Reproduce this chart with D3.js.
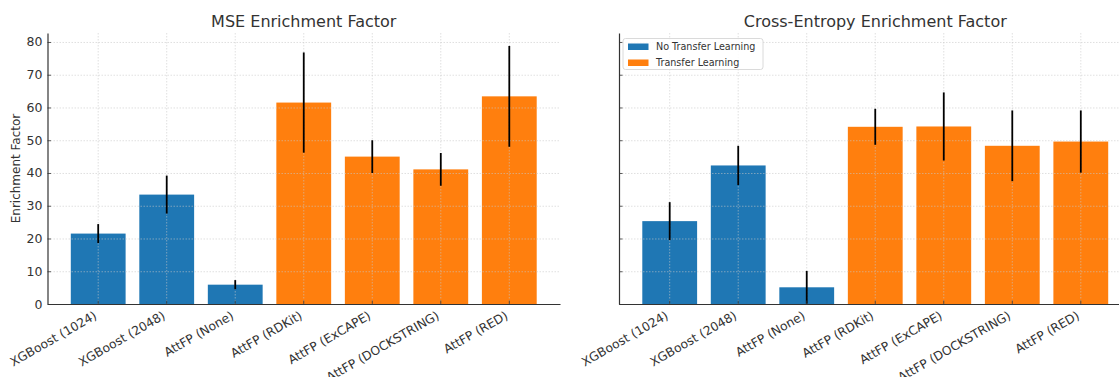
<!DOCTYPE html>
<html>
<head>
<meta charset="utf-8">
<script src="https://cdn.jsdelivr.net/npm/d3@7"></script>
<style>
  html, body { margin: 0; padding: 0; background: #ffffff; }
  svg { display: block; font-family: "DejaVu Sans", sans-serif; }
</style>
</head>
<body>
<svg id="chart" width="1119" height="377"></svg>
<script>
// Models compared in both panels
const categories = ["XGBoost (1024)", "XGBoost (2048)", "AttFP (None)", "AttFP (RDKit)",
                    "AttFP (ExCAPE)", "AttFP (DOCKSTRING)", "AttFP (RED)"];
// Whether the model used transfer learning (colour group)
const usesTransfer = [false, false, false, true, true, true, true];

// Enrichment factor, model trained with MSE loss: mean and standard deviation
const mseMean = [21.5, 33.4, 5.9, 61.5, 45.0, 41.1, 63.4];
const mseErr  = [2.9, 5.8, 1.4, 15.3, 5.0, 5.0, 15.4];

// Enrichment factor, model trained with cross-entropy loss: mean and standard deviation
const ceMean = [25.3, 42.3, 5.1, 54.1, 54.2, 48.3, 49.6];
const ceErr  = [5.8, 6.0, 5.0, 5.5, 10.4, 10.8, 9.5];

const yTicks = [0, 10, 20, 30, 40, 50, 60, 70, 80];
const legendLabels = ["No Transfer Learning", "Transfer Learning"];
const panelTitles = ["MSE Enrichment Factor", "Cross-Entropy Enrichment Factor"];

const colors = { base: "#1f77b4", transfer: "#ff7f0e" };
const textColor = "#333333";
const spineColor = "#333333";

const svg = d3.select("#chart");

const plotTop = 33, plotBottom = 304;
const panels = [
  { x0: 47.5, x1: 560, mean: mseMean, err: mseErr, title: panelTitles[0], yLabels: true, legend: false },
  { x0: 619, x1: 1131.5, mean: ceMean, err: ceErr, title: panelTitles[1], yLabels: false, legend: true }
];

// Shared y range: headroom of 5% above the tallest error bar
const yMax = d3.max([...mseMean.map((m, i) => m + mseErr[i]), ...ceMean.map((m, i) => m + ceErr[i])]) * 1.05;
const y = d3.scaleLinear().domain([0, yMax]).range([plotBottom, plotTop]);

panels.forEach(p => {
  const x = d3.scaleBand().domain(categories).range([p.x0, p.x1])
    .paddingInner(0.2).paddingOuter(0.34);
  const g = svg.append("g");

  // Bars
  g.selectAll("rect.bar").data(categories).join("rect")
    .attr("class", "bar")
    .attr("x", d => x(d))
    .attr("width", x.bandwidth())
    .attr("y", (d, i) => y(p.mean[i]))
    .attr("height", (d, i) => y(0) - y(p.mean[i]))
    .attr("fill", (d, i) => usesTransfer[i] ? colors.transfer : colors.base);

  // Grid drawn over the bars, faint dotted
  const grid = g.append("g").attr("stroke", "#c8c8c8").attr("stroke-opacity", 0.7)
    .attr("stroke-width", 0.8).attr("stroke-dasharray", "1.5,1.5");
  grid.selectAll("line.h").data(yTicks).join("line")
    .attr("x1", p.x0).attr("x2", p.x1)
    .attr("y1", d => y(d) + 0.5).attr("y2", d => y(d) + 0.5);
  grid.selectAll("line.v").data(categories).join("line")
    .attr("x1", d => x(d) + x.bandwidth() / 2).attr("x2", d => x(d) + x.bandwidth() / 2)
    .attr("y1", plotTop).attr("y2", plotBottom);

  // Error bars (no caps)
  g.selectAll("line.err").data(categories).join("line")
    .attr("class", "err")
    .attr("x1", d => x(d) + x.bandwidth() / 2)
    .attr("x2", d => x(d) + x.bandwidth() / 2)
    .attr("y1", (d, i) => y(Math.max(0, p.mean[i] - p.err[i])))
    .attr("y2", (d, i) => y(p.mean[i] + p.err[i]))
    .attr("stroke", "#000")
    .attr("stroke-width", 1.8);

  // Left axis (ticks pointing inward)
  const yAxis = d3.axisLeft(y).tickValues(yTicks).tickSizeInner(-3.5).tickSizeOuter(0)
    .tickPadding(5).tickFormat(p.yLabels ? d3.format("d") : () => "");
  const ya = g.append("g").attr("transform", `translate(${p.x0},0)`).call(yAxis);
  ya.select(".domain").attr("stroke", spineColor).attr("stroke-width", 1.2);
  ya.selectAll(".tick line").attr("stroke", spineColor).attr("stroke-width", 0.8);
  ya.selectAll(".tick text").attr("fill", textColor).attr("font-size", 12.5)
    .attr("font-family", "DejaVu Sans");

  // Bottom axis (ticks pointing inward, labels rotated)
  const xAxis = d3.axisBottom(x).tickSizeInner(-3.5).tickSizeOuter(0).tickPadding(0);
  const xa = g.append("g").attr("transform", `translate(0,${plotBottom})`).call(xAxis);
  xa.select(".domain").attr("stroke", spineColor).attr("stroke-width", 1.2);
  xa.selectAll(".tick line").attr("stroke", spineColor).attr("stroke-width", 0.8);
  xa.selectAll(".tick text")
    .attr("fill", textColor).attr("font-size", 12.3).attr("font-family", "DejaVu Sans")
    .attr("text-anchor", "end").attr("dy", null).attr("y", null)
    .attr("transform", "translate(-0.5,14) rotate(-30)");

  // Title
  svg.append("text")
    .attr("x", (p.x0 + p.x1) / 2).attr("y", 27)
    .attr("text-anchor", "middle").attr("font-size", 16).attr("fill", textColor)
    .text(p.title);

  if (p.yLabels) {
    svg.append("text")
      .attr("transform", `translate(20,${(plotTop + plotBottom) / 2}) rotate(-90)`)
      .attr("text-anchor", "middle").attr("font-size", 12).attr("fill", textColor)
      .text("Enrichment Factor");
  }

  if (p.legend) {
    const lg = svg.append("g").attr("transform", `translate(${p.x0 + 4},38.5)`);
    lg.append("rect").attr("width", 140).attr("height", 31).attr("rx", 2.5)
      .attr("fill", "#fff").attr("fill-opacity", 0.85)
      .attr("stroke", "#d6d6d6").attr("stroke-width", 0.9);
    legendLabels.forEach((lab, i) => {
      lg.append("rect").attr("x", 5).attr("y", 5 + i * 16).attr("width", 20.5).attr("height", 6.5)
        .attr("fill", i === 0 ? colors.base : colors.transfer);
      lg.append("text").attr("x", 33).attr("y", 8.3 + i * 16).attr("dy", "0.35em")
        .attr("font-size", 9.6).attr("fill", textColor).text(lab);
    });
  }
});
</script>
</body>
</html>
